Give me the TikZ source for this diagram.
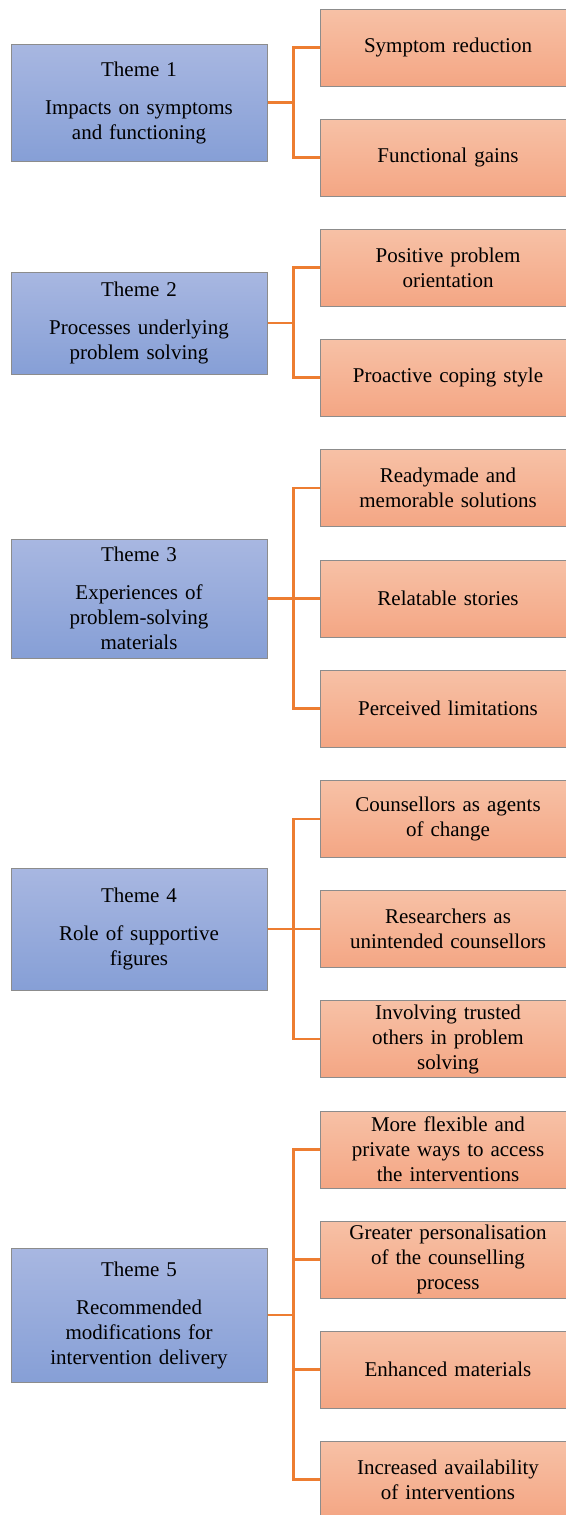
\documentclass[tikz,border=0pt]{standalone}
\usepackage{fontspec}
\setmainfont{Liberation Serif}
\usepackage{tikz}

\definecolor{themetop}{RGB}{168,183,225}
\definecolor{themebot}{RGB}{134,159,214}
\definecolor{subtop}{RGB}{247,193,166}
\definecolor{subbot}{RGB}{244,166,132}
\definecolor{boxline}{RGB}{140,140,140}
\definecolor{linkorange}{RGB}{237,125,49}

\tikzset{
  theme/.style={draw=boxline, line width=0.5pt, top color=themetop, bottom color=themebot,
    text width=120pt, inner xsep=4pt, inner ysep=0pt, align=center,
    font=\fontsize{10.5}{12.5}\selectfont},
  sub/.style={draw=boxline, line width=0.5pt, top color=subtop, bottom color=subbot,
    text width=120pt, inner xsep=4pt, inner ysep=0pt, minimum height=38.5pt, align=center,
    font=\fontsize{10.5}{12.5}\selectfont},
  link/.style={draw=linkorange, line width=1.2pt}
}

\begin{document}
\begin{tikzpicture}[x=0.5pt,y=-0.5pt]

\useasboundingbox (0,0) rectangle (566,1515);

%==================== Theme 1 ====================
\node[theme, minimum height=58.5pt] (t1) at (139,102.5) {Theme 1\\[6.5pt]Impacts on symptoms\\and functioning};
\node[sub] (t1a) at (448,47.5) {Symptom reduction};
\node[sub] (t1b) at (448,157.5) {Functional gains};

%==================== Theme 2 ====================
\node[theme, minimum height=51pt] (t2) at (139,323) {Theme 2\\[6.5pt]Processes underlying\\problem solving};
\node[sub] (t2a) at (448,267.5) {Positive problem\\orientation};
\node[sub] (t2b) at (448,377.5) {Proactive coping style};

%==================== Theme 3 ====================
\node[theme, minimum height=59.5pt] (t3) at (139,598.5) {Theme 3\\[6.5pt]Experiences of\\problem-solving\\materials};
\node[sub] (t3a) at (448,488) {Readymade and\\memorable solutions};
\node[sub] (t3b) at (448,598.5) {Relatable stories};
\node[sub] (t3c) at (448,708.5) {Perceived limitations};

%==================== Theme 4 ====================
\node[theme, minimum height=61pt] (t4) at (139,929) {Theme 4\\[6.5pt]Role of supportive\\figures};
\node[sub] (t4a) at (448,819) {Counsellors as agents\\of change};
\node[sub] (t4b) at (448,929) {Researchers as\\unintended counsellors};
\node[sub] (t4c) at (448,1039) {Involving trusted\\others in problem\\solving};

%==================== Theme 5 ====================
\node[theme, minimum height=67pt] (t5) at (139,1315) {Theme 5\\[6.5pt]Recommended\\modifications for\\intervention delivery};
\node[sub] (t5a) at (448,1149.5) {More flexible and\\private ways to access\\the interventions};
\node[sub] (t5b) at (448,1259.5) {Greater personalisation\\of the counselling\\process};
\node[sub] (t5c) at (448,1369.5) {Enhanced materials};
\node[sub] (t5d) at (448,1479.5) {Increased availability\\of interventions};

% brackets from each theme to its subthemes
\foreach \t/\s in {t1/t1a,t1/t1b,t2/t2a,t2/t2b,t3/t3a,t3/t3b,t3/t3c,
                   t4/t4a,t4/t4b,t4/t4c,t5/t5a,t5/t5b,t5/t5c,t5/t5d}
{
    \draw[link] (\t.east) -- ++(26,0) |- (\s.west);
}

\end{tikzpicture}
\end{document}
